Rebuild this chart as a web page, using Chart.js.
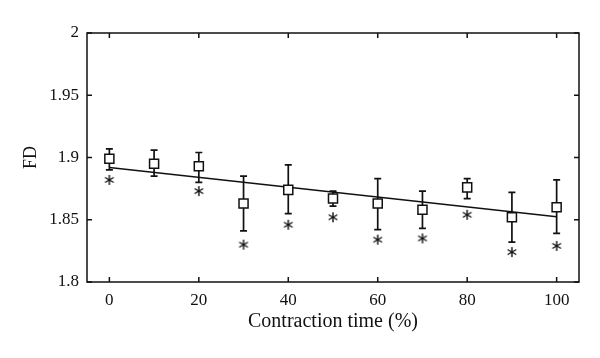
<!DOCTYPE html>
<html><head><meta charset="utf-8">
<script src="https://cdn.jsdelivr.net/npm/chart.js@4"></script>
<style>html,body{margin:0;padding:0;background:#fff}canvas{display:block}</style>
</head><body>
<canvas id="c" width="600" height="358"></canvas>
<script>
const contractionTime = [0, 10, 20, 30, 40, 50, 60, 70, 80, 90, 100];
const meanFD   = [1.899, 1.895, 1.893, 1.863, 1.874, 1.867, 1.863, 1.858, 1.876, 1.852, 1.860];
const upperFD  = [1.907, 1.906, 1.904, 1.885, 1.894, 1.873, 1.883, 1.873, 1.883, 1.872, 1.882];
const lowerFD  = [1.890, 1.885, 1.880, 1.841, 1.855, 1.861, 1.842, 1.843, 1.867, 1.832, 1.839];
const starFD   = [1.882, null, 1.873, 1.830, 1.846, 1.852, 1.834, 1.835, 1.854, 1.824, 1.829];
const fitX = [0, 100];
const fitFD = [1.892, 1.8524];
const xTicks = [0, 20, 40, 60, 80, 100];
const xTickLabels = ['0', '20', '40', '60', '80', '100'];
const yTicks = [1.8, 1.85, 1.9, 1.95, 2];
const yTickLabels = ['1.8', '1.85', '1.9', '1.95', '2'];

const SERIF = '"Liberation Serif", "DejaVu Serif", serif';

// asterisk marker
const ast = document.createElement('canvas');
ast.width = 14; ast.height = 14;
(function(){
  const g = ast.getContext('2d');
  g.strokeStyle = '#111'; g.lineWidth = 1.4; g.lineCap = 'butt';
  const cx = 7, cy = 7, r = 5;
  [90, 30, 150].forEach(a => {
    const t = a * Math.PI / 180;
    g.beginPath();
    g.moveTo(cx - r * Math.cos(t), cy - r * Math.sin(t));
    g.lineTo(cx + r * Math.cos(t), cy + r * Math.sin(t));
    g.stroke();
  });
})();

const errorBars = {
  id: 'errorBars',
  beforeDatasetsDraw(chart) {
    const {ctx, scales: {x, y}} = chart;
    ctx.save();
    ctx.strokeStyle = '#111'; ctx.lineWidth = 1.7;
    contractionTime.forEach((t, i) => {
      const px = x.getPixelForValue(t);
      const pt = y.getPixelForValue(upperFD[i]);
      const pb = y.getPixelForValue(lowerFD[i]);
      ctx.beginPath();
      ctx.moveTo(px, pt); ctx.lineTo(px, pb);
      ctx.moveTo(px - 3.5, pt); ctx.lineTo(px + 3.5, pt);
      ctx.moveTo(px - 3.5, pb); ctx.lineTo(px + 3.5, pb);
      ctx.stroke();
    });
    ctx.restore();
  }
};

const frame = {
  id: 'frame',
  afterDraw(chart) {
    const {ctx, chartArea: a, scales: {x, y}} = chart;
    ctx.save();
    ctx.strokeStyle = '#111'; ctx.lineWidth = 1.5;
    ctx.strokeRect(a.left, a.top, a.right - a.left, a.bottom - a.top);
    ctx.beginPath();
    const L = 5;
    xTicks.forEach(v => {
      const p = x.getPixelForValue(v);
      ctx.moveTo(p, a.bottom); ctx.lineTo(p, a.bottom - L);
      ctx.moveTo(p, a.top); ctx.lineTo(p, a.top + L);
    });
    yTicks.forEach(v => {
      const p = y.getPixelForValue(v);
      ctx.moveTo(a.left, p); ctx.lineTo(a.left + L, p);
      ctx.moveTo(a.right, p); ctx.lineTo(a.right - L, p);
    });
    ctx.stroke();
    ctx.restore();
  }
};

new Chart(document.getElementById('c'), {
  type: 'scatter',
  data: {
    datasets: [
      {
        label: 'FD',
        data: contractionTime.map((t, i) => ({x: t, y: meanFD[i]})),
        pointStyle: 'rect', pointRadius: 6.4, pointHoverRadius: 6.4,
        borderColor: '#111', backgroundColor: '#fff', borderWidth: 1.5,
        order: 0
      },
      {
        type: 'line',
        label: 'fit',
        data: fitX.map((t, i) => ({x: t, y: fitFD[i]})),
        borderColor: '#111', borderWidth: 1.6, pointRadius: 0, fill: false,
        order: 1
      },
      {
        label: 'sig',
        data: contractionTime.map((t, i) => ({x: t, y: starFD[i]})).filter(p => p.y !== null),
        pointStyle: ast, pointRadius: 6,
        order: 2
      }
    ]
  },
  options: {
    responsive: false,
    animation: false,
    layout: {padding: {top: 33, right: 21, left: 0, bottom: 0}},
    plugins: {legend: {display: false}, tooltip: {enabled: false}},
    scales: {
      x: {
        type: 'linear', min: -5, max: 105,
        grid: {display: false, drawTicks: false},
        border: {display: false},
        afterBuildTicks: s => { s.ticks = xTicks.map(v => ({value: v})); },
        afterFit: s => { s.height = 76; },
        ticks: {
          padding: 8, color: '#111', maxRotation: 0,
          font: {family: SERIF, size: 17},
          callback: (v) => xTickLabels[xTicks.indexOf(v)]
        },
        title: {display: true, text: 'Contraction time (%)', color: '#111',
                font: {family: SERIF, size: 20}, padding: {top: 0, bottom: 24}}
      },
      y: {
        type: 'linear', min: 1.8, max: 2,
        grid: {display: false, drawTicks: false},
        border: {display: false},
        afterBuildTicks: s => { s.ticks = yTicks.map(v => ({value: v})); },
        afterFit: s => { s.width = 87; },
        ticks: {
          padding: 8, color: '#111',
          font: {family: SERIF, size: 17},
          callback: (v) => yTickLabels[yTicks.indexOf(v)]
        },
        title: {display: true, text: 'FD', color: '#111',
                font: {family: SERIF, size: 18}, padding: {top: 20, bottom: 0}}
      }
    }
  },
  plugins: [errorBars, frame]
});
</script>
</body></html>
